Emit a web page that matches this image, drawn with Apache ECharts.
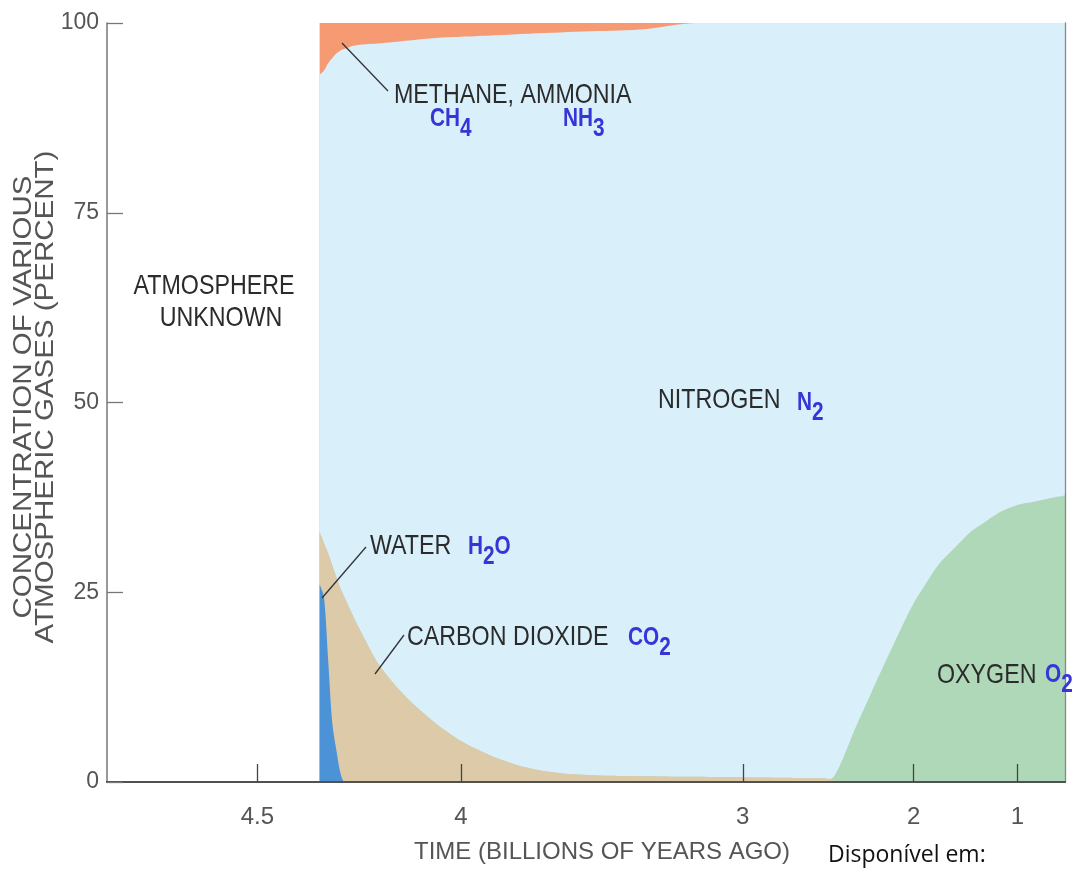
<!DOCTYPE html>
<html><head><meta charset="utf-8">
<script src="https://cdn.jsdelivr.net/npm/echarts@6/dist/echarts.min.js"></script>
<style>html,body{margin:0;padding:0;background:#fff}#chart{width:1079px;height:870px}</style>
</head><body><div id="chart"></div>
<script>
// ---- data (billions of years ago, percent) ----
const times    = [4.36,4.35,4.34,4.33,4.32,4.31,4.30,4.28,4.25,4.22,4.18,4.14,4.10,4.05,4.00,3.95,3.9,3.8,3.7,3.6,3.5,3.4,3.3,3.2,3.1,3.0,2.9,2.8,2.7,2.6,2.55,2.5,2.4,2.3,2.2,2.1,2.0,1.9,1.8,1.7,1.6,1.5,1.4,1.2,1.0,0.8,0.6,0.4,0.29];
const water    = [26,24.4,16,7.6,4.0,1.0,0,0,0,0,0,0,0,0,0,0,0,0,0,0,0,0,0,0,0,0,0,0,0,0,0,0,0,0,0,0,0,0,0,0,0,0,0,0,0,0,0,0,0];
const co2      = [6.9,7.1,14.1,20.9,22.9,24.4,24.2,21.8,18.6,15.7,13.0,10.8,9.0,7.0,5.4,4.2,3.2,1.8,1.15,0.9,0.8,0.75,0.7,0.7,0.65,0.6,0.6,0.55,0.5,0.5,0.4,0,0,0,0,0,0,0,0,0,0,0,0,0,0,0,0,0,0];
const oxygen   = [0,0,0,0,0,0,0,0,0,0,0,0,0,0,0,0,0,0,0,0,0,0,0,0,0,0,0,0,0,0,0,1.9,7.1,11.7,16.0,20.0,23.6,26.3,28.7,30.3,31.8,33.1,34.0,35.6,36.5,36.9,37.3,37.6,37.8];
const nitrogen = [60.3,62.2,64.6,66.9,69.1,71.0,72.4,75.2,78.6,81.6,84.5,86.9,88.9,91.1,92.8,94.1,95.2,96.8,97.6,98.0,98.2,98.45,99.0,99.3,99.35,99.4,99.4,99.45,99.5,99.5,99.6,98.1,92.9,88.3,84.0,80.0,76.4,73.7,71.3,69.7,68.2,66.9,66.0,64.4,63.5,63.1,62.7,62.4,62.2];
const methane  = [6.8,6.3,5.3,4.6,4.0,3.6,3.4,3.0,2.8,2.7,2.5,2.3,2.1,1.9,1.8,1.7,1.6,1.4,1.25,1.1,1.0,0.8,0.3,0,0,0,0,0,0,0,0,0,0,0,0,0,0,0,0,0,0,0,0,0,0,0,0,0,0];
const tickTimes  = [4.5, 4, 3, 2, 1];
const tickLabels = ['4.5', '4', '3', '2', '1'];
const timeRange  = [0.293, 4.803];
const yTicks = [0, 25, 50, 75, 100];

// The figure's time axis is stretched: horizontal position is linear in exp(t/2).
const toScale = t => Math.exp(t / 2);

// Stack the layers bottom-up (water, CO2, O2, N2, CH4/NH3).
const layers = [
  { name: 'Water H2O', data: water, color: '#4b93d6' },
  { name: 'Carbon dioxide CO2', data: co2, color: '#dccaa9' },
  { name: 'Oxygen O2', data: oxygen, color: '#afd8b8' },
  { name: 'Nitrogen N2', data: nitrogen, color: '#d9f0fb' },
  { name: 'Methane, ammonia', data: methane, color: '#f59a72' }
];
const running = times.map(() => 0);
layers.forEach(l => { l.cum = l.data.map((v, i) => (running[i] += v)); });

const FONT = '"Liberation Sans", Arial, Helvetica, sans-serif';
const BLUE = '#3636d8';
const DARK = '#2b2b2b';

function series(l) {
  return {
    name: l.name, type: 'line', data: times.map((t, i) => [toScale(t), l.cum[i]]),
    symbol: 'none', showSymbol: false, smooth: 0.3,
    lineStyle: { width: 0 }, areaStyle: { color: l.color, opacity: 1, origin: 'start' }, itemStyle: { color: l.color },
    emphasis: { disabled: true }, silent: true, z: 2
  };
}

function label(text, x, y, align) {
  return { type: 'text', x, y, z: 100, silent: true, scaleX: 0.83,
    style: { text, fontSize: 28, fontFamily: FONT, fill: DARK,
      align: align || 'left', verticalAlign: 'middle', textAlign: align || 'left', textVerticalAlign: 'middle' } };
}
function formula(main, sub, tail, x, y) {
  const base = { fontSize: 26, fontWeight: 'bold', fontFamily: FONT, fill: BLUE };
  return { type: 'text', x, y: y + 5, z: 100, silent: true, scaleX: 0.8,
    style: { text: '{m|' + main + '}{s|' + sub + '}' + (tail ? '{m|' + tail + '}' : ''),
      align: 'left', verticalAlign: 'middle', textAlign: 'left', textVerticalAlign: 'middle',
      rich: { m: Object.assign({ verticalAlign: 'top' }, base),
              s: Object.assign({ padding: [10, 0, 0, 0] }, base) } } };
}
function leader(x1, y1, x2, y2) {
  return { type: 'line', z: 100, silent: true, shape: { x1, y1, x2, y2 },
    style: { stroke: '#333', lineWidth: 1.3 } };
}

const chart = echarts.init(document.getElementById('chart'), null, { renderer: 'canvas' });
chart.setOption({
  animation: false,
  backgroundColor: '#ffffff',
  grid: { left: 107, right: 14, top: 23, bottom: 88 },
  xAxis: [{
    type: 'value', inverse: true, z: 10,
    min: toScale(timeRange[0]), max: toScale(timeRange[1]),
    name: 'TIME (BILLIONS OF YEARS AGO)', nameLocation: 'middle', nameGap: 58,
    nameTextStyle: { fontSize: 24, fontFamily: FONT, color: '#555', padding: [0, 0, 0, 32] },
    axisLine: { show: true, lineStyle: { color: '#444', width: 2 } },
    axisTick: { show: true, inside: true, length: 18, lineStyle: { color: '#444', width: 1.3 },
      customValues: tickTimes.map(toScale) },
    axisLabel: { show: true, margin: 23, fontSize: 24, fontFamily: FONT, color: '#555',
      customValues: tickTimes.map(toScale),
      formatter: v => { const i = tickTimes.findIndex(t => Math.abs(toScale(t) - v) < 1e-6); return i >= 0 ? tickLabels[i] : ''; } },
    splitLine: { show: false }
  }, {
    type: 'value', position: 'top', inverse: true, z: 10,
    min: toScale(timeRange[0]), max: toScale(timeRange[1]),
    axisLine: { show: true, lineStyle: { color: '#555', width: 1.5 } },
    axisTick: { show: false }, axisLabel: { show: false }, splitLine: { show: false }
  }],
  yAxis: [{
    type: 'value', min: 0, max: 100, interval: 25, z: 10,
    axisLine: { show: true, lineStyle: { color: '#777', width: 1.5 } },
    axisTick: { show: true, inside: true, length: 16, lineStyle: { color: '#777', width: 1.3 } },
    axisLabel: { margin: 8, fontSize: 23, fontFamily: FONT, color: '#555',
      formatter: v => yTicks.indexOf(v) >= 0 ? String(v) : '' },
    splitLine: { show: false }
  }, {
    type: 'value', min: 0, max: 100, position: 'right', z: 10,
    axisLine: { show: true, lineStyle: { color: '#888', width: 1.3 } },
    axisTick: { show: false }, axisLabel: { show: false }, splitLine: { show: false }
  }],
  // drawn back to front: the topmost cumulative layer first
  series: layers.slice().reverse().map(series),
  graphic: { elements: [
    label('ATMOSPHERE', 214, 286, 'center'),
    label('UNKNOWN', 221, 318, 'center'),
    label('METHANE, AMMONIA', 394, 95),
    formula('CH', '4', '', 430, 119),
    formula('NH', '3', '', 563, 119),
    label('NITROGEN', 658, 400),
    formula('N', '2', '', 797, 403),
    label('WATER', 370, 546),
    formula('H', '2', 'O', 468, 547),
    label('CARBON DIOXIDE', 407, 637),
    formula('CO', '2', '', 628, 638),
    label('OXYGEN', 937, 675),
    formula('O', '2', '', 1045, 675),
    leader(342, 43, 388, 91),
    leader(322, 598, 366, 547),
    leader(375, 674, 404, 635),
    { type: 'text', x: 35, y: 397, rotation: Math.PI / 2, scaleX: 1.18, z: 100, silent: true,
      style: { text: 'CONCENTRATION OF VARIOUS\nATMOSPHERIC GASES (PERCENT)', fontSize: 25, fontFamily: FONT,
        fill: '#555', lineHeight: 22, align: 'center', verticalAlign: 'middle', textAlign: 'center', textVerticalAlign: 'middle' } },
    { type: 'text', x: 828, y: 855, z: 100, silent: true,
      style: { text: 'Disponível em:', fontSize: 23, fontFamily: '"Open Sans", Lato, sans-serif', fill: '#111',
        align: 'left', verticalAlign: 'middle', textAlign: 'left', textVerticalAlign: 'middle' } }
  ] }
});
</script>
</body></html>
